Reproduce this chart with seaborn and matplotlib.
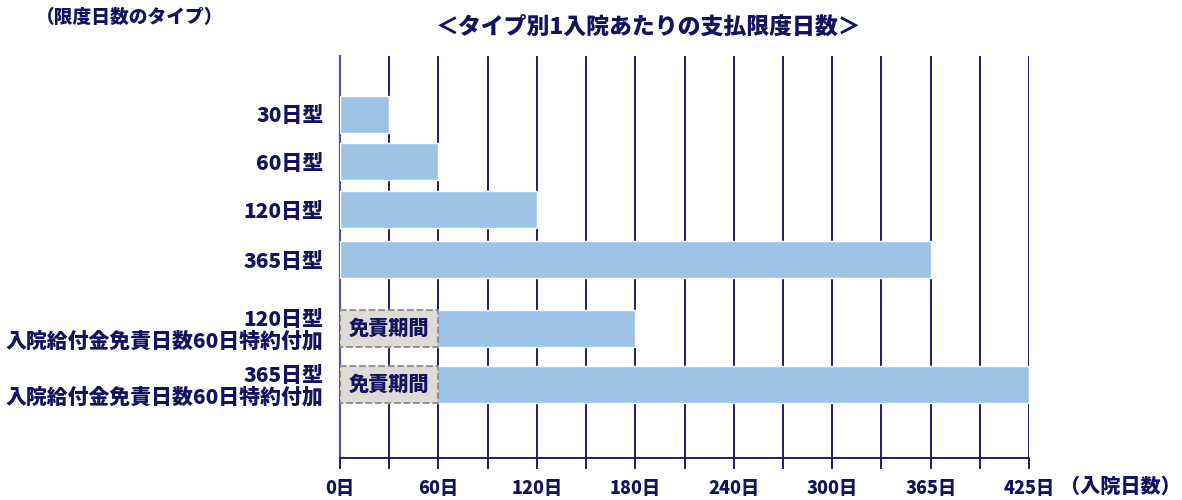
import numpy as np
import pandas as pd
import seaborn as sns
import matplotlib.pyplot as plt

# data
types = ["30日型", "60日型", "120日型", "365日型",
         "120日型\n入院給付金免責日数60日特約付加",
         "365日型\n入院給付金免責日数60日特約付加"]
limit_days = [30, 60, 120, 365, 120, 365]
waiting_days = [0, 0, 0, 0, 60, 60]
x_ticks = [0, 60, 120, 180, 240, 300, 365, 425]
x_minor = [30, 90, 150, 210, 270, 332.5, 395]
tick_labels = [f"{d}日" for d in x_ticks]

# layout (row centres in pixels from the top)
row_y = [114.5, 161.5, 209.5, 259.5, 328.5, 384.5]
bar_h = 37

navy = "#12125f"
line_c = "#1d1d6e"
blue = "#9DC3E6"
wt = "black"

df = pd.DataFrame({"type": types, "limit": limit_days, "waiting": waiting_days, "row": row_y})
df["total"] = df["limit"] + df["waiting"]

sns.set_style("white")
plt.rcParams["font.family"] = ["Noto Sans CJK JP", "DejaVu Sans"]

fig = plt.figure(figsize=(11.82, 5.0), dpi=100)
ax = fig.add_axes([340 / 1182, 42 / 500, 689 / 1182, 402 / 500])

# axis is squeezed after 300 days (300-365 and 365-425 get two grid cells each)
knots_in = [-1000, 0, 300, 365, 425, 2000]
knots_out = [-1000, 0, 300, 360, 420, 1995]
ax.set_xscale("function", functions=(lambda v: np.interp(v, knots_in, knots_out),
                                     lambda v: np.interp(v, knots_out, knots_in)))

w1 = bar_h / np.diff(sorted(df["row"])).min()
sns.barplot(data=df, x="total", y="row", orient="y", native_scale=True,
            width=w1, color=blue, saturation=1, errorbar=None, ax=ax, zorder=3)

wait = df[df["waiting"] > 0]
w2 = bar_h / np.diff(sorted(wait["row"])).min()
sns.barplot(data=wait, x="waiting", y="row", orient="y", native_scale=True,
            width=w2, color="#DEDAD6", saturation=1, errorbar=None, ax=ax, zorder=4,
            edgecolor="#8E8984", linewidth=1.3, linestyle="--")
for _, r in wait.iterrows():
    ax.text(r["waiting"] / 2, r["row"], "免責期間", ha="center", va="center",
            fontsize=14.5, fontweight=wt, color=navy, zorder=5)

ax.set_xlim(0, 425)
ax.set_ylim(458, 56)
ax.set_xticks(x_ticks)
ax.set_xticklabels(tick_labels)
ax.set_xticks(x_minor, minor=True)
ax.set_yticks(row_y)
ax.set_yticklabels(types, ha="right", linespacing=1.05)
ax.grid(True, axis="x", which="both", color=line_c, linewidth=1.4)
ax.set_axisbelow(True)
ax.set_xlabel("")
ax.set_ylabel("")

for s in ["top", "right"]:
    ax.spines[s].set_visible(False)
ax.spines["left"].set_color("#5454a0")
ax.spines["left"].set_linewidth(1.6)
ax.spines["bottom"].set_visible(True)
ax.spines["bottom"].set_color(line_c)
ax.spines["bottom"].set_linewidth(1.4)
ax.spines["bottom"].set_zorder(6)

ax.tick_params(axis="x", which="both", direction="out", length=8, width=1.4,
               color=line_c, pad=7, bottom=True)
ax.tick_params(axis="x", labelsize=13, labelcolor=navy)
ax.tick_params(axis="y", length=0, pad=12, labelsize=15, labelcolor=navy)
for lab in ax.get_xticklabels() + ax.get_yticklabels():
    lab.set_fontweight(wt)

fig.text(649 / 1182, 1 - 27 / 500, "＜タイプ別1入院あたりの支払限度日数＞",
         ha="center", va="center", fontsize=16.5, fontweight=wt, color=navy)
fig.text(36 / 1182, 1 - 17 / 500, "（限度日数のタイプ）",
         ha="left", va="center", fontsize=13.5, fontweight=wt, color=navy)
fig.text(1060 / 1182, 1 - 487 / 500, "（入院日数）",
         ha="left", va="center", fontsize=14.5, fontweight=wt, color=navy)

fig.savefig("out.png", dpi=100)
